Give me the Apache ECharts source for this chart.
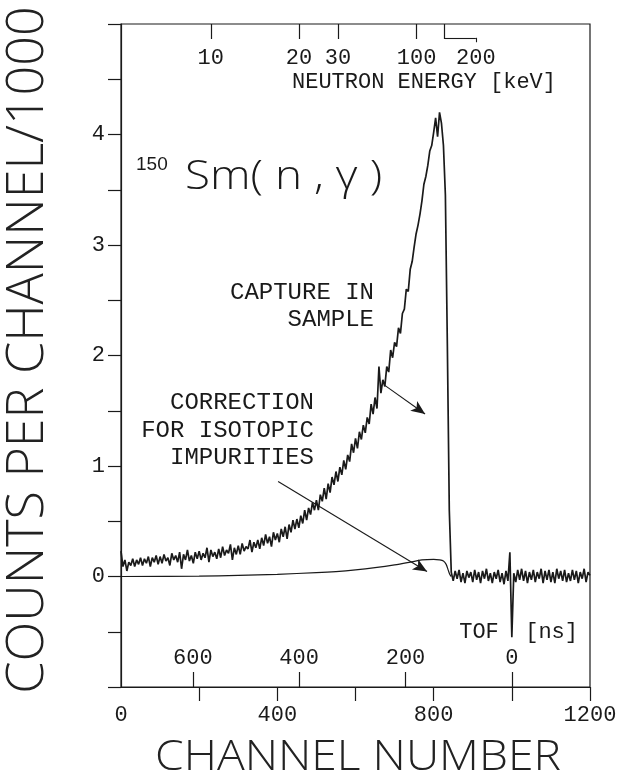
<!DOCTYPE html>
<html><head><meta charset="utf-8">
<script src="https://cdn.jsdelivr.net/npm/echarts@6/dist/echarts.min.js"></script>
<style>html,body{margin:0;padding:0;background:#fff}#c{width:623px;height:782px}</style>
</head><body><div id="c"></div>
<script>
// ---- data (counts per channel / 1000), channel = index * CHANNEL_STEP ----
const CHANNEL_STEP = 5;
const captureCounts = [
 0.23,0.09,0.15,0.05,0.13,0.10,0.16,0.09,0.15,0.11,
 0.17,0.10,0.16,0.12,0.18,0.09,0.17,0.13,0.19,0.11,
 0.18,0.12,0.20,0.14,0.17,0.10,0.21,0.15,0.19,0.13,
 0.22,0.07,0.20,0.15,0.24,0.14,0.19,0.12,0.22,0.16,
 0.23,0.15,0.21,0.17,0.26,0.13,0.24,0.18,0.22,0.16,
 0.25,0.17,0.27,0.19,0.24,0.21,0.29,0.15,0.26,0.20,
 0.28,0.20,0.30,0.23,0.27,0.25,0.33,0.22,0.31,0.26,
 0.33,0.25,0.35,0.28,0.38,0.30,0.36,0.27,0.40,0.33,
 0.39,0.31,0.43,0.36,0.45,0.34,0.47,0.40,0.51,0.43,
 0.52,0.44,0.55,0.48,0.60,0.51,0.62,0.56,0.67,0.60,
 0.69,0.60,0.74,0.68,0.80,0.70,0.84,0.76,0.90,0.83,
 0.95,0.86,0.99,0.92,1.05,0.97,1.10,1.04,1.20,1.12,
 1.25,1.16,1.31,1.24,1.37,1.30,1.44,1.38,1.56,1.47,
 1.62,1.52,1.90,1.66,1.78,1.72,1.90,1.85,2.05,1.98,
 2.12,2.08,2.25,2.20,2.38,2.42,2.60,2.58,2.78,2.85,
 2.98,3.10,3.18,3.28,3.40,3.55,3.62,3.72,3.85,3.90,
 4.02,4.15,3.98,4.20,4.10,3.90,3.45,2.10,0.60,0.04,
 -0.04,0.05,-0.02,0.06,-0.05,0.03,-0.06,0.05,-0.01,0.04,
 -0.05,0.06,-0.03,0.04,-0.06,0.05,-0.02,0.07,-0.04,0.03,
 -0.06,0.04,-0.02,0.06,-0.05,0.03,-0.07,0.05,-0.04,0.22,
 -0.55,0.03,-0.05,0.06,-0.03,0.07,-0.04,0.05,-0.06,0.04,
 -0.03,0.06,-0.05,0.04,-0.02,0.07,-0.06,0.05,-0.03,0.06,
 -0.05,0.04,-0.06,0.07,-0.02,0.05,-0.04,0.06,-0.05,0.03,
 -0.04,0.06,-0.03,0.05,-0.06,0.04,-0.02,0.07,-0.05,0.04,0.01
];
const correctionChannels = [0,200,300,400,500,550,600,650,700,740,770,800,815,825,832,837,841,845];
const correctionCounts   = [0,0.003,0.01,0.02,0.035,0.045,0.06,0.08,0.105,0.13,0.15,0.155,0.15,0.14,0.11,0.06,0.02,0];

// ---- axes ----
const channelTicks  = [200,400,600,800,1000,1200];
const channelLabels = [0,400,800,1200];
const countLabels   = [0,1,2,3,4];
const tofTicks      = [0,200,400,600];          // ns
const energyTicks   = [10,20,30,100,200];       // keV
// calibration
const TOF_ZERO_CHANNEL = 1000;
const NS_PER_CHANNEL = 0.735;
const FLIGHT_PATH_M = 0.783;
const ENERGY_200_LABEL_CHANNEL = 908;           // label of 200 keV set aside on a bracket

// ---- annotations (data coordinates) ----
const captureArrow    = [[675,1.73],[778,1.47]];
const correctionArrow = [[402,0.86],[783,0.045]];

// ---- derived ----
function energyToChannel(EkeV){
  const v = Math.sqrt(2*EkeV*1.602177e-16/1.674927e-27); // m/s
  const tns = FLIGHT_PATH_M / v * 1e9;
  return TOF_ZERO_CHANNEL - tns / NS_PER_CHANNEL;
}
const tofTickChannels = tofTicks.map(t => TOF_ZERO_CHANNEL - t / NS_PER_CHANNEL);
const energyTickChannels = energyTicks.map(energyToChannel);
const energyLabelChannels = energyTickChannels.slice(0,4).concat([ENERGY_200_LABEL_CHANNEL]);

const captureData = captureCounts.map((v,i) => [i*CHANNEL_STEP, v]);
const correctionData = correctionChannels.map((c,i) => [c, correctionCounts[i]]);

const INK = '#1a1a1a';
const MONO = '"Liberation Mono","DejaVu Sans Mono",monospace';
const TITLE = '"Open Sans","Lato","DejaVu Sans",sans-serif';
const tickStyle = {color: INK, width: 1.2};
const labelBase = {fontFamily: MONO, fontSize: 22, color: INK};

const bracketY = 4.875;
const c200 = energyTickChannels[4];

const chart = echarts.init(document.getElementById('c'), null, {renderer:'canvas'});
chart.setOption({
  animation: false,
  backgroundColor: '#fff',
  grid: {left:121, right:33, top:24, bottom:95, show:true, borderColor:INK, borderWidth:1.2, backgroundColor:'transparent'},
  xAxis: [
    {type:'value', min:0, max:1200, position:'bottom',
     axisLine:{show:true, onZero:false, lineStyle:tickStyle},
     axisTick:{show:true, inside:false, length:14, customValues:channelTicks, lineStyle:tickStyle},
     axisLabel:Object.assign({customValues:channelLabels, margin:17, formatter: v => String(v)}, labelBase),
     splitLine:{show:false}},
    {type:'value', min:0, max:1200, position:'bottom',
     axisLine:{show:false, onZero:false},
     axisTick:{show:true, inside:true, length:15, customValues:tofTickChannels, lineStyle:tickStyle},
     axisLabel:Object.assign({customValues:tofTickChannels, inside:true, margin:18,
       formatter: v => String(Math.round((TOF_ZERO_CHANNEL - v) * NS_PER_CHANNEL))}, labelBase),
     splitLine:{show:false}},
    {type:'value', min:0, max:1200, position:'top',
     axisLine:{show:false, onZero:false},
     axisTick:{show:true, inside:true, length:15, customValues:energyTickChannels, lineStyle:tickStyle},
     axisLabel:Object.assign({customValues:energyLabelChannels, inside:true, margin:23,
       formatter: v => { const i = energyLabelChannels.findIndex(c => Math.abs(c - v) < 0.5); return i < 0 ? '' : String(energyTicks[i]); }}, labelBase),
     splitLine:{show:false}}
  ],
  yAxis: {type:'value', min:-1, max:5, interval:0.5,
    axisLine:{show:true, onZero:false, lineStyle:tickStyle},
    axisTick:{show:true, length:13, lineStyle:tickStyle},
    axisLabel:Object.assign({customValues:countLabels, margin:16}, labelBase),
    splitLine:{show:false}},
  series: [
    {type:'line', name:'capture', data:captureData, xAxisIndex:0, yAxisIndex:0,
     showSymbol:false, symbol:'none', silent:true,
     lineStyle:{color:INK, width:1.7},
     markLine:{silent:true, symbol:['none','none'], label:{show:false},
       lineStyle:{color:INK, width:1.1, type:'solid'},
       emphasis:{disabled:true},
       data:[
         [{yAxis:0, symbol:'none'},{yAxis:0, symbol:'none'}],
         [{coord:captureArrow[0], symbol:'none'},{coord:captureArrow[1], symbol:'arrow', symbolSize:[9,14]}],
         [{coord:correctionArrow[0], symbol:'none'},{coord:correctionArrow[1], symbol:'arrow', symbolSize:[9,14]}],
         [{coord:[c200,bracketY], symbol:'none'},{coord:[ENERGY_200_LABEL_CHANNEL,bracketY], symbol:'none'}],
         [{coord:[ENERGY_200_LABEL_CHANNEL,bracketY], symbol:'none'},{coord:[ENERGY_200_LABEL_CHANNEL,bracketY-0.04], symbol:'none'}]
       ]}},
    {type:'line', name:'correction', data:correctionData, xAxisIndex:0, yAxisIndex:0,
     showSymbol:false, symbol:'none', silent:true, smooth:0.3,
     lineStyle:{color:INK, width:1.2}}
  ],
  graphic: [
    {type:'text', x:28, y:350, rotation:Math.PI/2, scaleX:1.0,
     style:{text:'COUNTS PER CHANNEL/1000', font:'300 52px ' + TITLE, fill:'#222', align:'center', verticalAlign:'middle'}},
    {type:'text', x:358, y:758, scaleX:1.1,
     style:{text:'CHANNEL NUMBER', font:'300 42px ' + TITLE, fill:'#222', align:'center', verticalAlign:'middle'}},
    {type:'text', x:424, y:82,
     style:{text:'NEUTRON ENERGY [keV]', font:'normal 22px ' + MONO, fill:INK, align:'center', verticalAlign:'middle'}},
    {type:'text', x:578, y:632,
     style:{text:'TOF  [ns]', font:'normal 22px ' + MONO, fill:INK, align:'right', verticalAlign:'middle'}},
    {type:'text', x:374, y:293,
     style:{text:'CAPTURE IN', font:'normal 24px ' + MONO, fill:INK, align:'right', verticalAlign:'middle'}},
    {type:'text', x:374, y:320,
     style:{text:'SAMPLE', font:'normal 24px ' + MONO, fill:INK, align:'right', verticalAlign:'middle'}},
    {type:'text', x:314, y:403,
     style:{text:'CORRECTION', font:'normal 24px ' + MONO, fill:INK, align:'right', verticalAlign:'middle'}},
    {type:'text', x:314, y:431,
     style:{text:'FOR ISOTOPIC', font:'normal 24px ' + MONO, fill:INK, align:'right', verticalAlign:'middle'}},
    {type:'text', x:314, y:458,
     style:{text:'IMPURITIES', font:'normal 24px ' + MONO, fill:INK, align:'right', verticalAlign:'middle'}},
    {type:'text', x:136, y:165,
     style:{text:'150', font:'normal 19px "Liberation Sans"', fill:INK, align:'left', verticalAlign:'middle'}},
    {type:'text', x:185, y:177, scaleX:1.12,
     style:{text:'Sm( n , γ )', font:'300 41px ' + TITLE, fill:INK, align:'left', verticalAlign:'middle'}}
  ]
});
</script>
</body></html>
